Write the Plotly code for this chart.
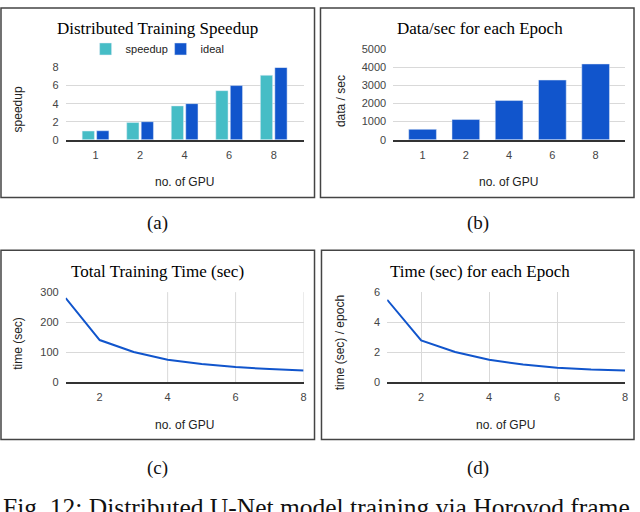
import plotly.graph_objects as go

W, H = 640, 512

gpus = ["1", "2", "4", "6", "8"]
speedup = [0.97, 1.91, 3.75, 5.44, 7.14]
ideal = [1, 2, 4, 6, 8]
data_per_sec = [575, 1115, 2160, 3290, 4175]

gpu_count = [1, 2, 3, 4, 5, 6, 7, 8]
total_time = [280, 140, 100, 74, 60, 50, 43, 38]
epoch_time = [5.49, 2.78, 2.0, 1.48, 1.17, 0.95, 0.83, 0.76]

TEAL = "#46bdc6"
BLUE = "#1155cc"
GRID = "#d9d9d9"
AXIS = "#333333"
TICK = "#444444"
SANS = "Liberation Sans, Arial, sans-serif"
SERIF = "Liberation Serif, Times New Roman, serif"


def px(x):
    return x / W


def py(y):
    return 1 - y / H


fig = go.Figure()

# (a) speedup
fig.add_trace(go.Bar(x=gpus, y=speedup, name="speedup", marker_color=TEAL,
                     offset=-0.3, width=0.275, xaxis="x", yaxis="y"))
fig.add_trace(go.Bar(x=gpus, y=ideal, name="ideal", marker_color=BLUE,
                     offset=0.025, width=0.275, xaxis="x", yaxis="y"))
# (b) data/sec
fig.add_trace(go.Bar(x=gpus, y=data_per_sec, marker_color=BLUE, width=0.64,
                     showlegend=False, xaxis="x2", yaxis="y2"))
# (c) total time
fig.add_trace(go.Scatter(x=gpu_count, y=total_time, mode="lines",
                         line=dict(color=BLUE, width=2), showlegend=False,
                         xaxis="x3", yaxis="y3"))
# (d) time per epoch
fig.add_trace(go.Scatter(x=gpu_count, y=epoch_time, mode="lines",
                         line=dict(color=BLUE, width=2), showlegend=False,
                         xaxis="x4", yaxis="y4"))

tickfont = dict(family=SANS, size=11, color=TICK)
xcommon = dict(showline=True, linecolor=AXIS, linewidth=1.5, ticks="",
               tickfont=tickfont, ticklabelstandoff=4, zeroline=False)
ycommon = dict(showline=False, gridcolor=GRID, gridwidth=1, ticks="",
               tickfont=tickfont, ticklabelstandoff=6, zeroline=False)

fig.update_layout(
    width=W, height=H, margin=dict(l=0, r=0, t=0, b=0),
    paper_bgcolor="white", plot_bgcolor="white",
    showlegend=True,
    legend=dict(orientation="h", x=px(86), y=py(44), xanchor="left", yanchor="middle",
                entrywidth=30, entrywidthmode="pixels",
                font=dict(family=SANS, size=11, color="#222"), bgcolor="rgba(0,0,0,0)"),
    xaxis=dict(domain=[px(66), px(305)], anchor="y", type="category",
               range=[-0.67, 4.67], showgrid=False, **xcommon),
    yaxis=dict(domain=[py(137), py(63)], anchor="x", range=[0, 8],
               tickvals=[0, 2, 4, 6, 8], **ycommon),
    xaxis2=dict(domain=[px(395), px(628)], anchor="y2", type="category",
                range=[-0.68, 4.68], showgrid=False, **xcommon),
    yaxis2=dict(domain=[py(137), py(44)], anchor="x2", range=[0, 5000],
                tickvals=[0, 1000, 2000, 3000, 4000, 5000], **ycommon),
    xaxis3=dict(domain=[px(66), px(305)], anchor="y3", range=[1, 8],
                tickvals=[2, 4, 6, 8], showgrid=False, **xcommon),
    yaxis3=dict(domain=[py(385), py(293)], anchor="x3", range=[0, 300],
                tickvals=[0, 100, 200, 300], **ycommon),
    xaxis4=dict(domain=[px(389), px(628)], anchor="y4", range=[1, 8],
                tickvals=[2, 4, 6, 8], showgrid=True, gridcolor=GRID, **xcommon),
    yaxis4=dict(domain=[py(385), py(293)], anchor="x4", range=[0, 6],
                tickvals=[0, 2, 4, 6], **ycommon),
)

shapes = []
# panel frames
for x0, y0, x1, y1 in [(1, 2, 316, 196), (322, 2, 637, 196),
                       (1, 250, 316, 444), (323, 250, 637, 444)]:
    shapes.append(dict(type="rect", xref="paper", yref="paper",
                       x0=px(x0), y0=py(y1), x1=px(x1), y1=py(y0),
                       line=dict(color="#444444", width=1.5), layer="above"))
# vertical gridlines of panel (c) (no line at 2 in the original)
for gx in [4, 6, 8]:
    shapes.append(dict(type="line", xref="x3", yref="y3 domain", x0=gx, x1=gx,
                       y0=0, y1=1, line=dict(color=GRID, width=1), layer="below"))
fig.update_layout(shapes=shapes)

ann = []


def text(x, y, s, size, family, color="#222", angle=0, xanchor="center", yanchor="middle"):
    ann.append(dict(x=px(x), y=py(y), xref="paper", yref="paper", text=s, showarrow=False,
                    textangle=angle, xanchor=xanchor, yanchor=yanchor,
                    font=dict(family=family, size=size, color=color)))


# chart titles
text(158, 23, "Distributed Training Speedup", 17, SERIF, "#000")
text(482, 23, "Data/sec for each Epoch", 17, SERIF, "#000")
text(158, 272, "Total Training Time (sec)", 17, SERIF, "#000")
text(482, 272, "Time (sec) for each Epoch", 17, SERIF, "#000")
# axis titles
text(185, 180, "no. of GPU", 12, SANS)
text(511, 180, "no. of GPU", 12, SANS)
text(185, 429, "no. of GPU", 12, SANS)
text(508, 429, "no. of GPU", 12, SANS)
text(18, 106, "speedup", 12, SANS, angle=-90)
text(342, 97, "data / sec", 12, SANS, angle=-90)
text(18, 345, "time (sec)", 12, SANS, angle=-90)
text(342, 345, "time (sec) / epoch", 12, SANS, angle=-90)
# sub-figure labels
text(158, 222, "(a)", 19, SERIF, "#111")
text(480, 222, "(b)", 19, SERIF, "#111")
text(158, 473, "(c)", 19, SERIF, "#111")
text(480, 473, "(d)", 19, SERIF, "#111")
# caption (cut off at the bottom like the original crop)
text(1, 497, "Fig. 12: Distributed U-Net model training via Horovod frame", 25.5, SERIF, "#111",
     xanchor="left", yanchor="top")
fig.update_layout(annotations=ann)

fig.write_html("out.html", config=dict(displayModeBar=False),
               post_script="document.body.style.margin='0';"
               "document.body.style.overflow='hidden';")
